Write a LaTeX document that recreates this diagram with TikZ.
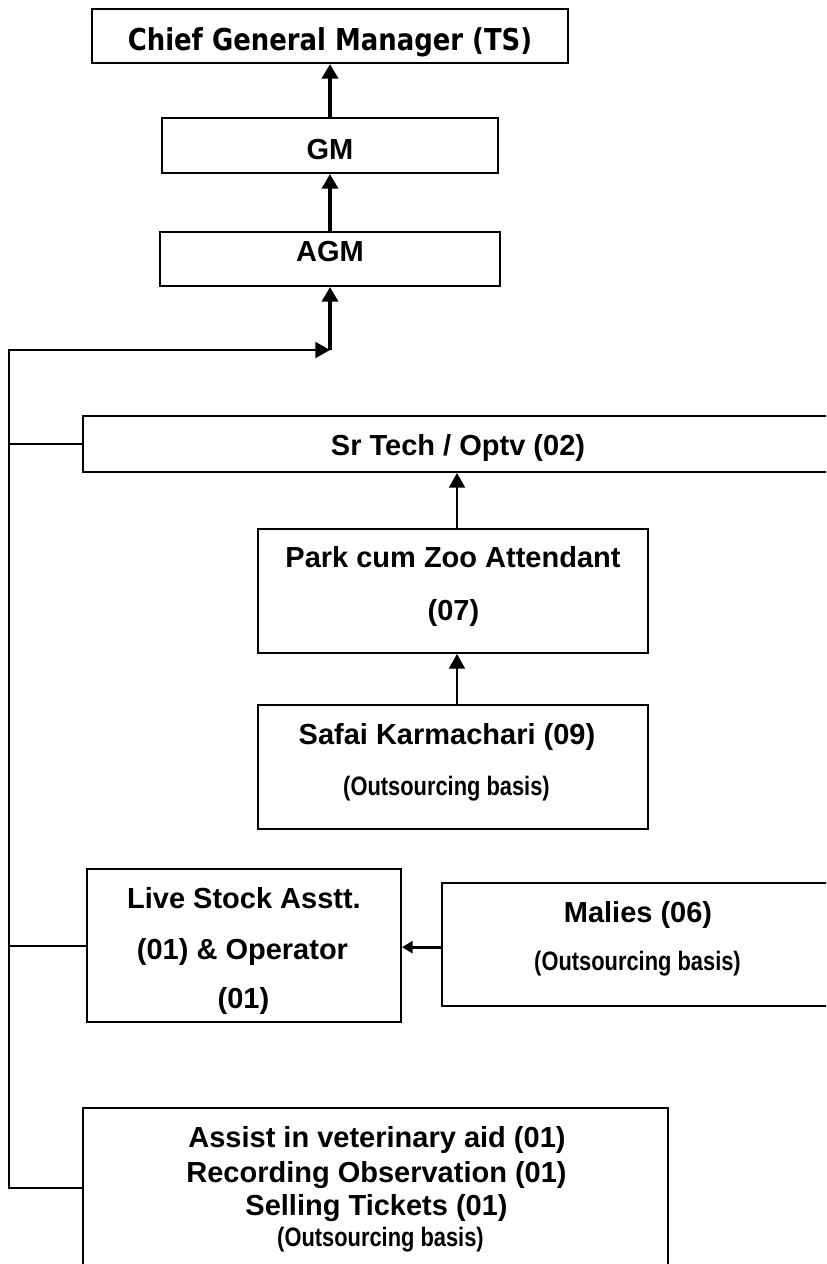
\documentclass[tikz,border=0pt]{standalone}
\usepackage{fontspec}
\setmainfont{Liberation Sans}
\newfontfamily\narrowfont[FakeStretch=0.82]{Liberation Sans}
\newfontfamily\headfont[FakeStretch=0.86]{DejaVu Sans}
\usetikzlibrary{arrows.meta,positioning}
\tikzstyle{box} = [draw, rectangle, line width=1.5pt, inner sep=0pt]
\tikzstyle{headtxt} = [inner sep=0pt, anchor=base, font=\headfont\bfseries\fontsize{22.6pt}{27pt}\selectfont]
\tikzstyle{bodytxt} = [inner sep=0pt, anchor=base, font=\bfseries\fontsize{21.75pt}{26pt}\selectfont]
\tikzstyle{notetxt} = [inner sep=0pt, anchor=base, font=\narrowfont\bfseries\fontsize{20pt}{24pt}\selectfont]
\tikzstyle{line} = [draw, line width=1.5pt]
\tikzstyle{upline} = [draw, line width=3pt, -{Triangle[width=12pt,length=11pt]}]
\tikzstyle{subline} = [draw, line width=1.5pt, -{Triangle[width=12pt,length=11pt]}]
\tikzstyle{sideline} = [draw, line width=2.5pt, -{Triangle[width=9pt,length=8pt]}]

\begin{document}
\begin{tikzpicture}[x=0.75pt, y=-0.75pt]
	\useasboundingbox (0,0) rectangle (826,1264);
	\clip (0,0) rectangle (826,1264);

	% management
	\node [box, minimum width=357pt, minimum height=40.5pt](cgm) at (330,36){};
	\node [headtxt](cgm-t) at (330,50){Chief General Manager (TS)};
	\node [box, minimum width=252pt, minimum height=41.25pt](gm) at (330,145.5){};
	\node [bodytxt](gm-t) at (330,159){GM};
	\node [box, minimum width=255pt, minimum height=40.5pt](agm) at (330,259){};
	\node [bodytxt](agm-t) at (330,261){AGM};
	\coordinate (join) at (330,350);
	\coordinate (corner) at (9,350);

	% staff
	\node [box, minimum width=562.5pt, minimum height=42pt](srtech) at (458,444){};
	\node [bodytxt](srtech-t) at (458,455){Sr Tech / Optv (02)};
	\node [box, minimum width=292.5pt, minimum height=93pt](park) at (453,591){};
	\node [bodytxt](park-t1) at (453,567){Park cum Zoo Attendant};
	\node [bodytxt](park-t2) at (453.5,620){(07)};
	\node [box, minimum width=292.5pt, minimum height=93pt](safai) at (453,767){};
	\node [bodytxt](safai-t1) at (447,744){Safai Karmachari (09)};
	\node [notetxt](safai-t2) at (446.5,795){(Outsourcing basis)};
	\node [box, minimum width=235.5pt, minimum height=114.75pt](live) at (244,945.5){};
	\node [bodytxt](live-t1) at (244,908){Live Stock Asstt.};
	\node [bodytxt](live-t2) at (242.5,959){(01) \& Operator};
	\node [bodytxt](live-t3) at (243.5,1008){(01)};
	\node [box, minimum width=294pt, minimum height=92.25pt](malies) at (638,944.5){};
	\node [bodytxt](malies-t1) at (638,922){Malies (06)};
	\node [notetxt](malies-t2) at (637.5,970){(Outsourcing basis)};
	\node [box, minimum width=438.75pt, minimum height=120pt](assist) at (375.5,1188){};
	\node [bodytxt](assist-t1) at (377,1147){Assist in veterinary aid (01)};
	\node [bodytxt](assist-t2) at (376.5,1182){Recording Observation (01)};
	\node [bodytxt](assist-t3) at (376.5,1215){Selling Tickets (01)};
	\node [notetxt](assist-t4) at (380.5,1246){(Outsourcing basis)};

	\path [upline] (gm) -- (cgm);
	\path [upline] (agm) -- (gm);
	\path [upline] (join) -- (join |- agm.south);
	\path [subline] (assist.west) -| (corner) -- (join);
	\path [line] (srtech.west) -- (srtech.west -| corner);
	\path [line] (live.west) -- (live.west -| corner);
	\path [subline] ([xshift=3pt]park.north) -- ([xshift=3pt]park.north |- srtech.south);
	\path [subline] ([xshift=3pt]safai.north) -- ([xshift=3pt]safai.north |- park.south);
	\path [sideline] ([yshift=-2pt]malies.west) -- ([yshift=-2pt]malies.west -| live.east);
\end{tikzpicture}
\end{document}
